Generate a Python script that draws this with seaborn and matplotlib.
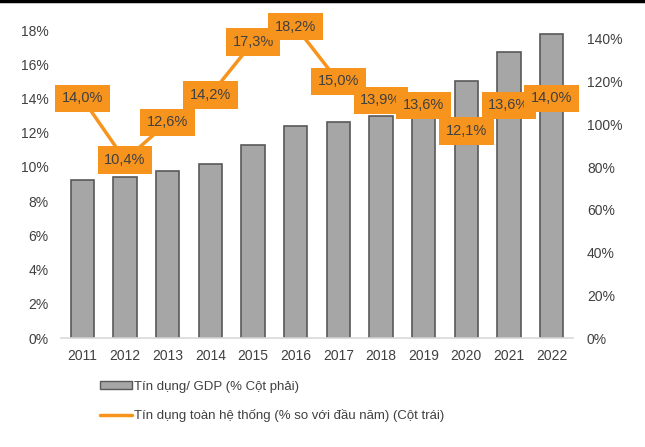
import matplotlib
matplotlib.use("Agg")
import matplotlib.pyplot as plt
import seaborn as sns
import pandas as pd
from matplotlib.patches import Patch
from matplotlib.lines import Line2D
from matplotlib.ticker import FuncFormatter

years = ["2011", "2012", "2013", "2014", "2015", "2016", "2017", "2018", "2019", "2020", "2021", "2022"]
credit_gdp = [74.0, 75.4, 78.2, 81.5, 90.4, 99.3, 101.1, 103.9, 110.0, 120.3, 133.9, 142.3]
credit_growth = [14.0, 10.4, 12.6, 14.2, 17.3, 18.2, 15.0, 13.9, 13.6, 12.1, 13.6, 14.0]
growth_labels = ["14,0%", "10,4%", "12,6%", "14,2%", "17,3%", "18,2%", "15,0%", "13,9%", "13,6%", "12,1%", "13,6%", "14,0%"]
legend_bar = "Tín dụng/ GDP (% Cột phải)"
legend_line = "Tín dụng toàn hệ thống (% so với đầu năm) (Cột trái)"

sns.set_theme(style="white")
plt.rcParams["font.family"] = ["Liberation Sans", "DejaVu Sans"]

ORANGE = "#F7941D"
GRAY = "#A6A6A6"
EDGE = "#595959"
TXT = "#404040"

df = pd.DataFrame({"year": years, "gdp": credit_gdp, "growth": credit_growth})

fig = plt.figure(figsize=(6.45, 4.47), dpi=100)
ax = fig.add_axes([61/645, 1-338/447, 512/645, 308/447])

sns.barplot(data=df, x="year", y="gdp", ax=ax, color=GRAY, edgecolor=EDGE,
            linewidth=1.2, width=0.54, saturation=1)

ax2 = ax.twinx()
sns.pointplot(data=df, x="year", y="growth", ax=ax2, color=ORANGE, markers="",
              linewidth=2.5)
for ln in ax2.lines:
    ln.set_clip_on(False)

ax.set_ylim(0, 144.2)
ax.yaxis.tick_right()
ax.set_yticks(range(0, 141, 20))
ax.yaxis.set_major_formatter(FuncFormatter(lambda v, p: f"{int(v)}%"))

ax2.set_ylim(0, 18)
ax2.yaxis.tick_left()
ax2.set_yticks(range(0, 19, 2))
ax2.yaxis.set_major_formatter(FuncFormatter(lambda v, p: f"{int(v)}%"))

for i, (v, lab) in enumerate(zip(credit_growth, growth_labels)):
    ax2.text(i, v, lab, ha="center", va="center", fontsize=10.5, color=TXT,
             bbox=dict(boxstyle="square,pad=0.45", fc=ORANGE, ec="none"),
             clip_on=False, zorder=5)

for a in (ax, ax2):
    for s in a.spines.values():
        s.set_visible(False)
    a.set_xlabel("")
    a.set_ylabel("")
    a.tick_params(axis="both", length=0, labelsize=10, colors=TXT)
ax.tick_params(axis="x", pad=8)
ax.tick_params(axis="y", pad=10)
ax2.tick_params(axis="y", pad=9)
ax.spines["bottom"].set_visible(True)
ax.spines["bottom"].set_color("#D9D9D9")
ax.spines["bottom"].set_linewidth(1.2)
ax.set_xlim(-0.5, 11.5)
ax2.set_xlim(-0.5, 11.5)

handles = [Patch(facecolor=GRAY, edgecolor=EDGE, linewidth=1.0),
           Line2D([0], [0], color=ORANGE, lw=2.5)]
fig.legend(handles, [legend_bar, legend_line], loc="upper left",
           bbox_to_anchor=(88/645, 1-369/447), frameon=False, fontsize=9.5,
           labelcolor=TXT, handlelength=2.4, handleheight=0.6,
           handletextpad=0.15, labelspacing=1.25)

fig.add_artist(Line2D([0, 1], [1-1/447, 1-1/447], color="black", lw=2.5,
                      transform=fig.transFigure))

fig.savefig("out.png", dpi=100)
